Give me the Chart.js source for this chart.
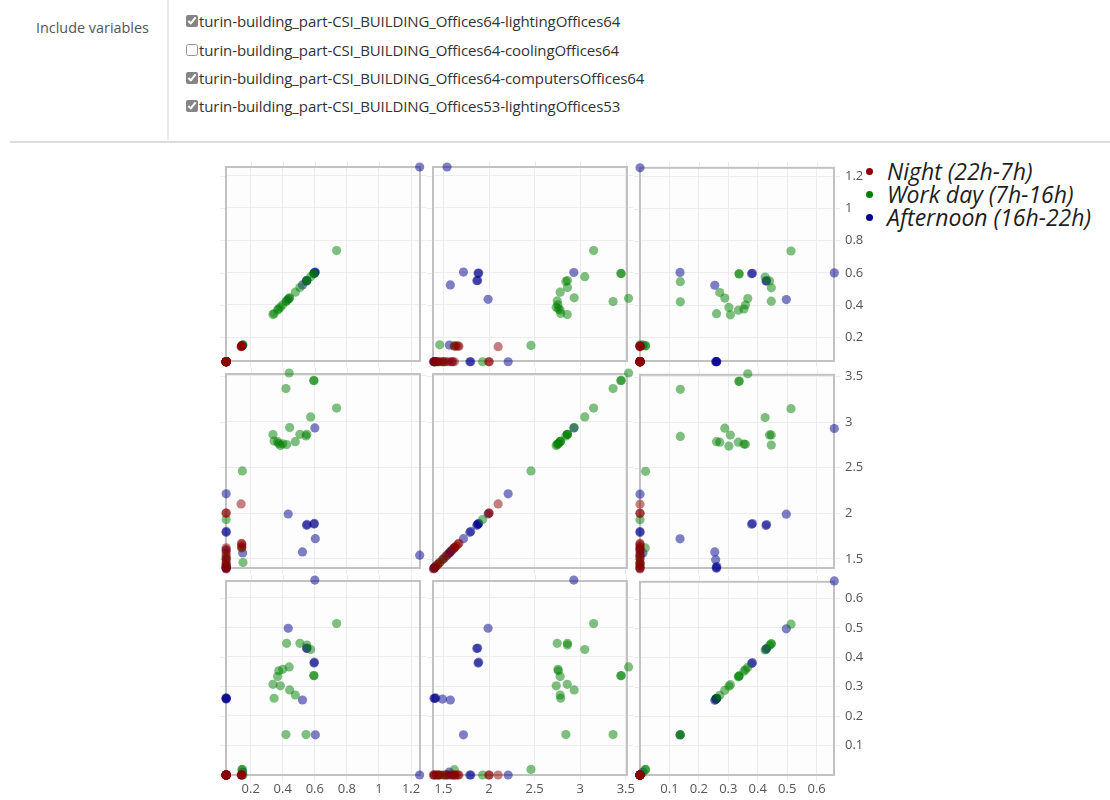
<!DOCTYPE html>
<html>
<head>
<meta charset="utf-8">
<script src="https://cdn.jsdelivr.net/npm/chart.js@4.4.0/dist/chart.umd.min.js"></script>
<style>
  html, body { margin:0; padding:0; background:#fff; }
  body { width:1110px; height:800px; position:relative; overflow:hidden; font-family:"Open Sans", sans-serif; }
  .lbl { position:absolute; left:36px; top:18px; font-size:14.4px; color:#555; }
  .vsep { position:absolute; left:167px; top:0; width:2px; height:140px; background:#ececec; }
  .hsep { position:absolute; left:10px; top:141px; width:1100px; height:2px; background:#dcdcdc; }
  .row { position:absolute; left:186px; font-size:15px; color:#333; display:flex; align-items:center; height:20px; letter-spacing:-0.1px; }
  .row input { margin:0 1px 0 0; width:12px; height:12px; filter:grayscale(1) brightness(1.1); opacity:0.85; }
  .legend { position:absolute; left:866px; top:160px; font-style:italic; font-size:23px; color:#1e1e1e; line-height:23px; }
  .legend div { display:flex; align-items:center; white-space:nowrap; }
  .dot { width:7px; height:7px; border-radius:50%; display:inline-block; margin-right:14px; }
  canvas.panel { position:absolute; }
</style>
</head>
<body>
<div class="lbl">Include variables</div>
<div class="vsep"></div>
<div class="hsep"></div>
<div id="vars"></div>
<div class="legend" id="legend"></div>
<div id="charts"></div>
<script>
// ---------- data ----------
const variableNames = [
  'turin-building_part-CSI_BUILDING_Offices64-lightingOffices64',
  'turin-building_part-CSI_BUILDING_Offices64-coolingOffices64',
  'turin-building_part-CSI_BUILDING_Offices64-computersOffices64',
  'turin-building_part-CSI_BUILDING_Offices53-lightingOffices53'
];
const variableChecked = [true, false, true, true];

const categories = ['Night (22h-7h)', 'Work day (7h-16h)', 'Afternoon (16h-22h)'];

// Night (22h-7h): lighting64 (A), computers64 (B), lighting53 (C)
const nightA = [0.047,0.047,0.047,0.047,0.047,0.047,0.047,0.047,0.047,0.047,0.047,0.047,0.140,0.144,0.144,0.145,0.143];
const nightB = [1.39,1.40,1.42,1.44,1.46,1.50,1.53,1.56,1.60,1.62,2.00,2.00,2.10,1.62,1.64,1.66,1.67];
const nightC = [0,0,0,0,0,0,0,0,0,0,0,0,0,0,0,0,0];

// Work day (7h-16h)
const workA = [0.736,0.440,0.593,0.595,0.420,0.574,0.443,0.545,0.507,0.550,0.424,0.339,0.346,0.478,0.368,0.385,0.400,0.375,0.148,0.145,0.152,0.047,0.047,0.047];
const workB = [3.147,3.530,3.450,3.445,3.360,3.050,2.934,2.843,2.860,2.860,2.748,2.858,2.786,2.780,2.780,2.737,2.756,2.760,2.460,1.620,1.460,1.930,1.510,1.440];
const workC = [0.513,0.366,0.337,0.336,0.137,0.425,0.288,0.137,0.446,0.440,0.446,0.307,0.260,0.271,0.334,0.302,0.358,0.353,0.019,0.018,0.000,0.000,0.000,0.000];

// Afternoon (16h-22h)
const noonA = [1.254,0.600,0.434,0.549,0.551,0.595,0.597,0.603,0.523,0.047,0.047,0.047,0.047,0.047,0.047,0.047,0.150,0.047,0.047];
const noonB = [1.540,2.930,1.990,1.866,1.876,1.880,1.887,1.720,1.576,2.210,1.790,1.800,1.397,1.405,1.416,1.490,1.565,1.400,1.590];
const noonC = [0.000,0.660,0.497,0.428,0.430,0.379,0.382,0.136,0.254,0.000,0.000,0.000,0.260,0.259,0.261,0.257,0.010,0.000,0.000];

// tick labels per plotted variable
const ticksA = [0.2, 0.4, 0.6, 0.8, 1, 1.2];
const ticksB = [1.5, 2, 2.5, 3, 3.5];
const ticksC = [0.1, 0.2, 0.3, 0.4, 0.5, 0.6];

// ---------- build ----------
const series = [[nightA, nightB, nightC], [workA, workB, workC], [noonA, noonB, noonC]];
const tickSets = [ticksA, ticksB, ticksC];
const fills = ['rgba(139,0,0,0.5)', 'rgba(0,128,0,0.5)', 'rgba(0,0,139,0.5)'];
const solid = ['#8b0000', '#008000', '#00008b'];
const rangeX = [[0.046, 1.256], [1.386, 3.513], [0, 0.659]];
const rangeY = [[0.0515, 1.254], [1.40, 3.519], [0, 0.657]];

// header checkboxes
const varsDiv = document.getElementById('vars');
const rowTops = [11, 40, 68, 96];
variableNames.forEach((n, i) => {
  const d = document.createElement('div');
  d.className = 'row';
  d.style.top = rowTops[i] + 'px';
  const cb = document.createElement('input');
  cb.type = 'checkbox'; cb.checked = variableChecked[i];
  d.appendChild(cb);
  d.appendChild(document.createTextNode(n));
  varsDiv.appendChild(d);
});

// legend
const lg = document.getElementById('legend');
categories.forEach((c, k) => {
  const d = document.createElement('div');
  const s = document.createElement('span');
  s.className = 'dot'; s.style.background = solid[k];
  d.appendChild(s);
  d.appendChild(document.createTextNode(c));
  lg.appendChild(d);
});

const GRID = '#ececec';
const framePlugin = {
  id: 'frame',
  beforeDraw(chart) {
    const { ctx, chartArea: a } = chart;
    ctx.save();
    ctx.fillStyle = '#fdfdfd';
    ctx.fillRect(a.left, a.top, a.right - a.left, a.bottom - a.top);
    ctx.restore();
  },
  beforeDatasetsDraw(chart) {
    const { ctx, chartArea: a, scales } = chart;
    ctx.save();
    ctx.strokeStyle = GRID; ctx.lineWidth = 1;
    scales.x.ticks.forEach(t => {
      const p = Math.round(scales.x.getPixelForValue(t.value)) + 0.5;
      ctx.beginPath(); ctx.moveTo(p, a.top - 6); ctx.lineTo(p, a.top); ctx.stroke();
    });
    scales.y.ticks.forEach(t => {
      const p = Math.round(scales.y.getPixelForValue(t.value)) + 0.5;
      ctx.beginPath(); ctx.moveTo(a.left - 6, p); ctx.lineTo(a.left, p); ctx.stroke();
    });
    ctx.strokeStyle = '#c2c2c2'; ctx.lineWidth = 2;
    ctx.strokeRect(a.left, a.top, a.right - a.left, a.bottom - a.top);
    ctx.restore();
  }
};

const PAD = 12, SIZE = 194, YW = 40, XH = 30;
const host = document.getElementById('charts');
for (let r = 0; r < 3; r++) {
  for (let c = 0; c < 3; c++) {
    const cv = document.createElement('canvas');
    cv.className = 'panel';
    cv.width = PAD + SIZE + YW; cv.height = PAD + SIZE + XH;
    cv.style.width = cv.width + 'px'; cv.style.height = cv.height + 'px';
    cv.style.left = (226 + c * 207 - PAD) + 'px';
    cv.style.top = (167 + r * 207 - PAD) + 'px';
    host.appendChild(cv);
    const datasets = categories.map((name, k) => ({
      label: name,
      data: series[k][c].map((v, i) => ({ x: v, y: series[k][r][i] })),
      backgroundColor: fills[k],
      borderColor: 'rgba(0,0,0,0)',
      pointRadius: 4.6,
      pointBorderWidth: 0,
      pointHoverRadius: 4.6,
      clip: false
    }));
    new Chart(cv, {
      type: 'scatter',
      data: { datasets },
      plugins: [framePlugin],
      options: {
        responsive: false, animation: false, devicePixelRatio: 1,
        layout: { padding: { left: PAD, top: PAD, right: 0, bottom: 0 } },
        plugins: { legend: { display: false }, tooltip: { enabled: false } },
        scales: {
          x: {
            type: 'linear', position: 'bottom',
            min: rangeX[c][0], max: rangeX[c][1],
            afterBuildTicks: s => { s.ticks = tickSets[c].map(v => ({ value: v })); },
            afterFit: s => { s.height = XH; },
            grid: { color: GRID, lineWidth: 1, drawTicks: true, tickLength: 6 },
            border: { display: false },
            ticks: {
              display: r === 2, autoSkip: false, maxRotation: 0, padding: 0,
              color: '#555', font: { family: 'Open Sans', size: 13 },
              callback: v => String(v)
            }
          },
          y: {
            type: 'linear', position: 'right',
            min: rangeY[r][0], max: rangeY[r][1],
            afterBuildTicks: s => { s.ticks = tickSets[r].map(v => ({ value: v })); },
            afterFit: s => { s.width = YW; },
            grid: { color: GRID, lineWidth: 1, drawTicks: true, tickLength: 6 },
            border: { display: false },
            ticks: {
              display: c === 2, autoSkip: false, padding: 5,
              color: '#555', font: { family: 'Open Sans', size: 13 },
              callback: v => String(v)
            }
          }
        }
      }
    });
  }
}
</script>
</body>
</html>
